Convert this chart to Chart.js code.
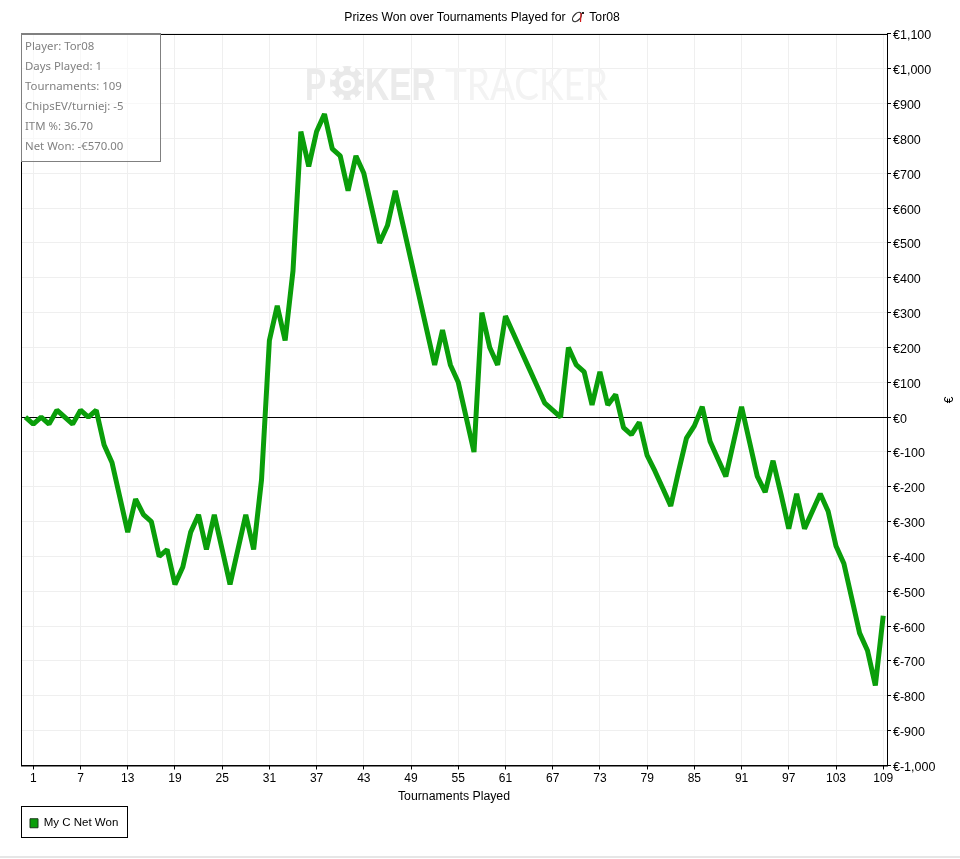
<!DOCTYPE html>
<html>
<head>
<meta charset="utf-8">
<title>Prizes Won over Tournaments Played</title>
<script src="https://cdn.jsdelivr.net/npm/chart.js@4/dist/chart.umd.min.js"></script>
<style>
  html, body { margin: 0; padding: 0; background: #fff; }
  #wrap { position: relative; width: 960px; height: 859px; overflow: hidden; }
  #chart { position: absolute; left: 0; top: 0; }
  #info {
    position: absolute; left: 21px; top: 33px; width: 135px; height: 126px;
    border: 1px solid #808080; border-top-width: 2px; background: rgba(255, 255, 255, 0.55);
    font: 11.4px "Noto Sans", sans-serif; color: #808080; padding: 0 0 0 3px;
  }
  #info div { height: 20px; line-height: 20px; white-space: nowrap; }
  #info div:first-child { margin-top: 1px; }
  #euro {
    position: absolute; left: 943px; top: 393px; width: 12px; text-align: center;
    font: 12px "Liberation Sans", Arial, sans-serif; color: #000; transform: rotate(-90deg);
  }
  #foot { position: absolute; left: 0; top: 856px; width: 960px; height: 2px; background: #e6e6e6; }
</style>
</head>
<body>
<div id="wrap">
  <canvas id="chart" width="960" height="859"></canvas>
  <div id="info"></div>
  <div id="euro">€</div>
  <div id="foot"></div>
</div>
<script>
// the nbsp run leaves room for the icon, the trailing one nudges the title left
const chartTitle = 'Prizes Won over Tournaments Played for \u00a0\u00a0\u00a0\u00a0\u00a0 Tor08\u00a0\u00a0\u00a0\u00a0\u00a0';
const xTitle = 'Tournaments Played';
const seriesName = 'My C Net Won';
const infoLines = ['Player: Tor08', 'Days Played: 1', 'Tournaments: 109', 'ChipsEV/turniej: -5', 'ITM %: 36.70', 'Net Won: -€570.00'];

const xTicks = [1, 7, 13, 19, 25, 31, 37, 43, 49, 55, 61, 67, 73, 79, 85, 91, 97, 103, 109];

// net won after each tournament, first value is the start of the run (tournament 0)
const netWon = [
  0, -20, 0, -20, 20, 0, -20, 20, 0, 20,
  -80, -130, -230, -330, -235, -280, -300, -400, -380, -480,
  -430, -330, -280, -380, -280, -380, -480, -380, -280, -380,
  -180, 220, 320, 220, 420, 820, 720, 820, 870, 770,
  750, 650, 750, 700, 600, 500, 550, 650, 550, 450,
  350, 250, 150, 250, 150, 100, 0, -100, 300, 200,
  150, 290, 240, 190, 140, 90, 40, 20, 0, 200,
  150, 130, 35, 130, 35, 65, -30, -50, -15, -110,
  -155, -205, -255, -155, -60, -25, 30, -70, -120, -170,
  -70, 30, -70, -170, -215, -125, -220, -320, -220, -320,
  -270, -220, -270, -370, -420, -520, -620, -670, -770, -570
];

const points = netWon.map(function(v, i) { return { x: i, y: v }; });

document.getElementById('info').innerHTML = infoLines.map(function(s) { return '<div>' + s + '</div>'; }).join('');

function formatEuro(v) {
  if (v < 0) return '€-' + Math.abs(v).toLocaleString('en-US');
  return '€' + v.toLocaleString('en-US');
}

function squeezedText(ctx, text, x, y, sx) {
  ctx.save();
  ctx.translate(x, y);
  ctx.scale(sx, 1);
  ctx.fillText(text, 0, 0);
  ctx.restore();
}

// faint logo behind the plot
const watermark = {
  id: 'watermark',
  beforeDatasetsDraw(chart) {
    const ctx = chart.ctx;
    ctx.save();
    ctx.textBaseline = 'alphabetic';
    ctx.fillStyle = '#ebebeb';
    ctx.font = 'bold 44px "Liberation Sans", Arial, sans-serif';
    squeezedText(ctx, 'P', 305, 100, 0.72);
    squeezedText(ctx, 'KER', 365, 100, 0.76);
    // chip standing in for the O
    ctx.beginPath();
    ctx.arc(347, 83, 17, 0, Math.PI * 2);
    ctx.fillStyle = '#e9e9e9';
    ctx.fill();
    ctx.fillStyle = '#fff';
    for (let i = 0; i < 8; i++) {
      const a = i * Math.PI / 4 + Math.PI / 8;
      ctx.beginPath();
      ctx.arc(347 + Math.cos(a) * 15, 83 + Math.sin(a) * 15, 2.6, 0, Math.PI * 2);
      ctx.fill();
    }
    ctx.beginPath();
    ctx.arc(347, 83, 8, 0, Math.PI * 2);
    ctx.fill();
    ctx.fillStyle = '#e9e9e9';
    ctx.beginPath();
    ctx.arc(347, 84, 4, 0, Math.PI * 2);
    ctx.fill();
    ctx.fillStyle = '#f3f3f3';
    ctx.font = '44px "Lato", "Open Sans", sans-serif';
    squeezedText(ctx, 'TRACKER', 445, 100, 0.84);
    ctx.restore();
  }
};

const frame = {
  id: 'frame',
  afterDatasetsDraw(chart) {
    const a = chart.chartArea;
    const ctx = chart.ctx;
    ctx.save();
    ctx.strokeStyle = '#000';
    ctx.lineWidth = 1;
    ctx.strokeRect(21.5, a.top + 0.5, 866, a.bottom - a.top);
    ctx.restore();
  },
  afterDraw(chart) {
    const ctx = chart.ctx;
    ctx.save();
    // box round the legend
    ctx.strokeStyle = '#000';
    ctx.lineWidth = 1;
    ctx.strokeRect(21.5, 806.5, 106, 31);
    // small cap icon in the title
    ctx.strokeStyle = '#333';
    ctx.lineWidth = 1.2;
    ctx.beginPath();
    ctx.ellipse(577, 17, 5.5, 3.2, -0.8, 0, Math.PI * 2);
    ctx.stroke();
    ctx.strokeStyle = '#d01818';
    ctx.beginPath();
    ctx.moveTo(581, 13);
    ctx.lineTo(580.5, 22);
    ctx.stroke();
    ctx.fillStyle = '#222';
    ctx.fillRect(582, 12, 2, 2);
    ctx.restore();
  }
};

const myChart = new Chart(document.getElementById('chart'), {
  type: 'line',
  data: {
    datasets: [{
      label: seriesName,
      data: points,
      borderColor: '#0a9e0a',
      backgroundColor: '#0a9e0a',
      borderWidth: 5,
      borderJoinStyle: 'bevel',
      pointRadius: 0,
      tension: 0,
      fill: false
    }]
  },
  options: {
    responsive: false,
    animation: false,
    layout: { padding: { left: 21, top: 0, right: 0, bottom: 20 } },
    plugins: {
      tooltip: { enabled: false },
      title: {
        display: true,
        text: chartTitle,
        color: '#000',
        font: { family: '"Liberation Sans", Arial, sans-serif', size: 12.2, weight: 'normal', lineHeight: 1.18 },
        padding: { top: 10, bottom: 9.6 }
      },
      legend: {
        display: true,
        position: 'bottom',
        align: 'start',
        labels: {
          color: '#000',
          boxWidth: 8,
          boxHeight: 9,
          padding: 9,
          font: { family: '"Liberation Sans", Arial, sans-serif', size: 11.5 },
          generateLabels(chart) {
            const items = Chart.defaults.plugins.legend.labels.generateLabels(chart);
            items.forEach(function(item) {
              item.strokeStyle = '#1a3a1a';
              item.lineWidth = 1;
            });
            return items;
          }
        }
      }
    },
    scales: {
      x: {
        type: 'linear',
        min: -0.562,
        max: 109.48,
        afterBuildTicks(scale) { scale.ticks = xTicks.map(function(v) { return { value: v }; }); },
        afterFit(scale) { scale.height = 43; },
        ticks: {
          color: '#000',
          autoSkip: false,
          maxRotation: 0,
          padding: 2,
          font: { family: '"Liberation Sans", Arial, sans-serif', size: 12 },
          callback(v) { return v; }
        },
        grid: { color: '#efefef', tickColor: '#000', tickLength: 4, lineWidth: 1 },
        border: { color: '#000', width: 1 },
        title: {
          display: true,
          text: xTitle,
          color: '#000',
          font: { family: '"Liberation Sans", Arial, sans-serif', size: 12.3, lineHeight: 1.2 },
          padding: { top: 0, bottom: 5 }
        }
      },
      y: {
        position: 'right',
        min: -1000,
        max: 1100,
        afterFit(scale) { scale.width = 73; },
        ticks: {
          stepSize: 100,
          color: '#000',
          padding: 2,
          labelOffset: 2,
          font: { family: '"Liberation Sans", Arial, sans-serif', size: 12.5 },
          callback: formatEuro
        },
        grid: {
          color(ctx) { return ctx.tick && ctx.tick.value === 0 ? '#000' : '#efefef'; },
          tickColor: '#000',
          tickLength: 4,
          lineWidth: 1
        },
        border: { color: '#000', width: 1 }
      }
    }
  },
  plugins: [watermark, frame]
});
</script>
</body>
</html>
